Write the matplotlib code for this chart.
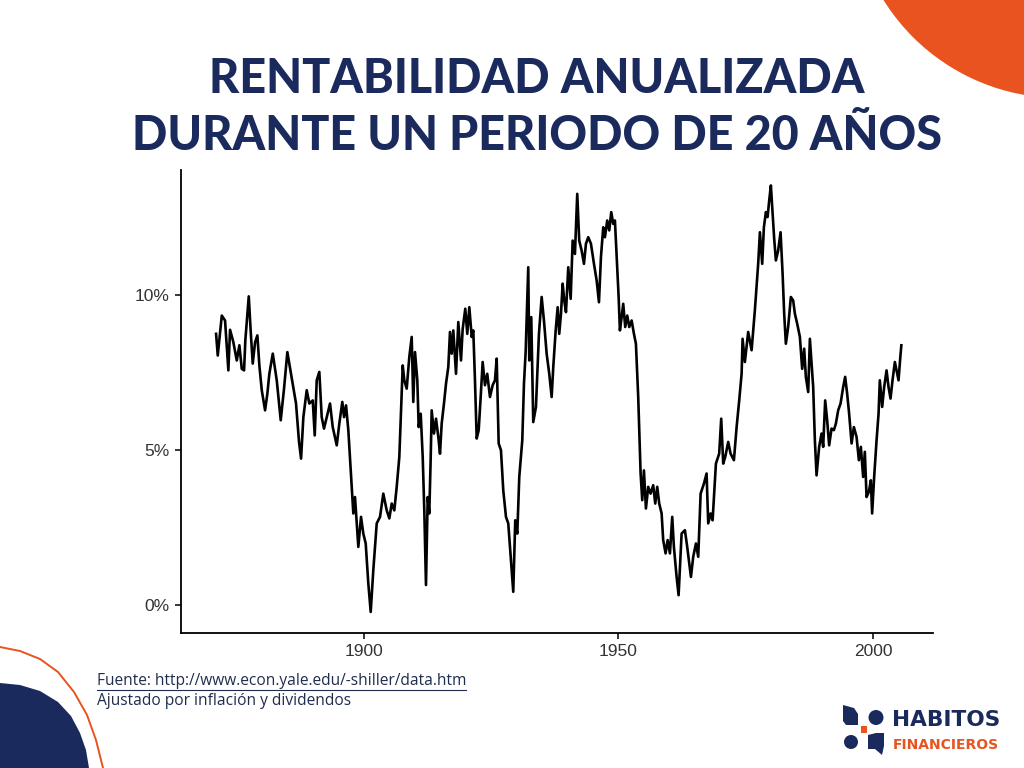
import numpy as np
import matplotlib
matplotlib.use("Agg")
import matplotlib.pyplot as plt
from matplotlib.patches import Circle, Polygon, Rectangle

years = [1871.08, 1871.41, 1872.20, 1872.84, 1873.49, 1873.82, 1874.47, 1875.14, 1875.65, 1876.12,
         1876.57, 1876.82, 1877.49, 1877.88, 1878.27, 1878.73, 1879.18, 1879.57, 1880.04, 1880.69,
         1881.14, 1881.53, 1882.20, 1882.98, 1883.76, 1884.41, 1885.06, 1885.78, 1886.76, 1887.35,
         1887.75, 1888.20, 1888.86, 1889.37, 1890.04, 1890.43, 1890.82, 1891.33, 1891.80, 1892.25,
         1892.78, 1893.43, 1893.96, 1894.75, 1895.25, 1895.84, 1896.18, 1896.57, 1897.02, 1897.49,
         1898.00, 1898.33, 1898.98, 1899.51, 1899.96, 1900.43, 1900.94, 1901.41, 1901.92, 1902.59,
         1903.24, 1903.88, 1904.55, 1905.06, 1905.53, 1906.04, 1906.51, 1907.02, 1907.29, 1907.69,
         1908.00, 1908.47, 1908.98, 1909.45, 1909.76, 1910.10, 1910.55, 1910.82, 1911.22, 1911.61,
         1911.92, 1912.25, 1912.59, 1912.90, 1913.18, 1913.37, 1913.82, 1914.22, 1914.67, 1915.00,
         1915.33, 1915.78, 1916.18, 1916.63, 1916.96, 1917.29, 1917.61, 1918.14, 1918.59, 1919.12,
         1919.45, 1919.96, 1920.35, 1920.75, 1921.22, 1921.53, 1921.86, 1922.20, 1922.59, 1922.98,
         1923.37, 1923.82, 1924.27, 1924.80, 1925.33, 1925.78, 1926.12, 1926.51, 1926.96, 1927.41,
         1927.94, 1928.39, 1928.86, 1929.37, 1929.76, 1930.16, 1930.55, 1931.14, 1931.47, 1931.80,
         1932.31, 1932.51, 1932.90, 1933.29, 1933.82, 1934.41, 1934.94, 1935.39, 1935.92, 1936.43,
         1936.90, 1937.22, 1937.69, 1938.08, 1938.39, 1938.73, 1939.06, 1939.37, 1939.71, 1940.16,
         1940.63, 1941.02, 1941.47, 1941.92, 1942.31, 1942.78, 1943.24, 1943.63, 1944.08, 1944.61,
         1945.20, 1945.73, 1946.18, 1946.57, 1947.02, 1947.35, 1947.80, 1948.20, 1948.59, 1948.98,
         1949.31, 1949.65, 1950.04, 1950.29, 1950.63, 1950.94, 1951.33, 1951.73, 1952.12, 1952.59,
         1953.04, 1953.43, 1953.88, 1954.35, 1954.67, 1955.00, 1955.39, 1955.84, 1956.31, 1956.82,
         1957.22, 1957.61, 1958.00, 1958.47, 1958.78, 1959.25, 1959.65, 1960.10, 1960.55, 1960.88,
         1961.41, 1961.80, 1962.39, 1963.04, 1963.49, 1964.22, 1964.67, 1965.20, 1965.65, 1966.12,
         1966.76, 1967.29, 1967.61, 1968.08, 1968.47, 1969.12, 1969.76, 1970.16, 1970.55, 1970.94,
         1971.53, 1972.00, 1972.65, 1973.18, 1973.69, 1974.16, 1974.35, 1974.80, 1975.45, 1976.12,
         1976.76, 1977.41, 1977.75, 1978.20, 1978.53, 1978.92, 1979.25, 1979.57, 1979.90, 1980.24,
         1980.55, 1980.88, 1981.33, 1981.80, 1982.20, 1982.51, 1982.84, 1983.29, 1983.82, 1984.27,
         1984.61, 1985.06, 1985.59, 1986.04, 1986.43, 1986.76, 1987.22, 1987.55, 1987.88, 1988.20,
         1988.53, 1988.86, 1989.37, 1989.84, 1990.16, 1990.55, 1990.94, 1991.33, 1991.80, 1992.25,
         1992.65, 1993.10, 1993.57, 1994.08, 1994.47, 1994.86, 1995.25, 1995.73, 1996.18, 1996.71,
         1997.16, 1997.55, 1998.00, 1998.33, 1998.67, 1999.12, 1999.51, 1999.76, 2000.16, 2000.63,
         2001.02, 2001.27, 2001.73, 2002.12, 2002.59, 2002.98, 2003.37, 2003.76, 2004.22, 2004.55,
         2004.94, 2005.29, 2005.49]
returns = [8.76, 8.06, 9.35, 9.19, 7.58, 8.89, 8.49, 7.90, 8.39, 7.63,
           7.58, 8.55, 9.97, 8.82, 7.80, 8.49, 8.71, 7.74, 6.94, 6.29,
           6.83, 7.47, 8.12, 7.26, 5.97, 6.99, 8.17, 7.47, 6.51, 5.27,
           4.73, 6.07, 6.94, 6.51, 6.61, 5.48, 7.26, 7.53, 6.07, 5.70,
           6.07, 6.51, 5.75, 5.16, 5.86, 6.56, 6.07, 6.45, 5.65, 4.35,
           2.96, 3.49, 1.88, 2.85, 2.31, 1.99, 0.70, -0.22, 1.13, 2.64,
           2.85, 3.60, 3.06, 2.80, 3.28, 3.06, 3.82, 4.78, 5.97, 7.74,
           7.26, 6.99, 8.01, 8.66, 6.56, 8.17, 7.26, 5.75, 6.18, 4.78,
           3.06, 0.65, 3.49, 2.96, 4.78, 6.29, 5.54, 6.02, 5.43, 4.89,
           5.86, 6.51, 7.15, 7.69, 8.82, 8.12, 8.87, 7.47, 9.14, 7.90,
           8.92, 9.57, 8.76, 9.62, 8.66, 8.87, 7.26, 5.38, 5.65, 6.72,
           7.85, 7.10, 7.47, 6.72, 7.10, 7.26, 7.96, 5.22, 5.00, 3.71,
           2.85, 2.64, 1.56, 0.43, 2.74, 2.31, 4.14, 5.32, 7.15, 8.17,
           10.91, 7.90, 9.30, 5.91, 6.40, 8.76, 9.95, 9.19, 8.12, 7.47,
           6.72, 7.69, 8.87, 9.62, 8.76, 9.41, 10.38, 9.84, 9.46, 10.91,
           9.89, 11.77, 11.34, 13.28, 11.77, 11.45, 11.02, 11.67, 11.88, 11.67,
           11.02, 10.48, 9.78, 11.24, 12.20, 11.88, 12.42, 12.10, 12.69, 12.31,
           12.42, 11.24, 9.95, 8.87, 9.30, 9.73, 8.98, 9.35, 8.98, 9.19,
           8.76, 8.44, 6.72, 4.25, 3.39, 4.35, 3.12, 3.82, 3.60, 3.87,
           3.28, 3.82, 3.28, 2.96, 2.10, 1.67, 2.10, 1.67, 2.85, 1.88,
           0.91, 0.32, 2.31, 2.42, 1.88, 0.91, 1.56, 1.99, 1.56, 3.60,
           3.92, 4.25, 2.64, 2.96, 2.74, 4.57, 4.89, 6.02, 4.57, 4.78,
           5.27, 4.89, 4.68, 5.75, 6.61, 7.47, 8.60, 7.85, 8.82, 8.23,
           9.52, 11.02, 12.04, 11.02, 12.20, 12.69, 12.53, 13.06, 13.55, 12.63,
           11.83, 11.13, 11.45, 12.04, 10.70, 9.41, 8.44, 8.98, 9.95, 9.84,
           9.41, 9.09, 8.66, 7.63, 8.28, 7.37, 6.88, 8.60, 7.80, 7.04,
           5.32, 4.19, 5.11, 5.54, 5.11, 6.61, 5.97, 5.16, 5.70, 5.65,
           5.86, 6.29, 6.51, 7.04, 7.37, 6.83, 6.18, 5.22, 5.75, 5.43,
           4.68, 5.11, 4.14, 4.95, 3.49, 3.66, 4.03, 2.96, 4.14, 5.32,
           6.18, 7.26, 6.40, 7.04, 7.58, 7.04, 6.67, 7.26, 7.85, 7.58,
           7.26, 8.01, 8.39]

y_ticks = [0, 5, 10]
y_tick_labels = ["0%", "5%", "10%"]
x_ticks = [1900, 1950, 2000]

title_lines = ["RENTABILIDAD ANUALIZADA", "DURANTE UN PERIODO DE 20 AÑOS"]
source_text = "Fuente: http://www.econ.yale.edu/-shiller/data.htm"
note_text = "Ajustado por inflación y dividendos"

navy = "#1b2a5c"
orange = "#e8531f"

W, H = 1024, 768
fig = plt.figure(figsize=(W / 100, H / 100), dpi=100)

# background layer in pixel coordinates for decorations and texts
bg = fig.add_axes([0, 0, 1, 1])
bg.set_xlim(0, W)
bg.set_ylim(H, 0)
bg.axis("off")

bg.add_patch(Circle((1060, -110), 208, color=orange, lw=0))
blob = [(0, 683), (20, 685), (40, 691), (58, 702), (71, 716), (80, 733), (86, 750), (89, 768), (0, 768)]
bg.add_patch(Polygon(blob, closed=True, color=navy, lw=0))
ring = np.array([(0, 647), (20, 651), (40, 659), (58, 672), (74, 692), (87, 715), (96, 740), (103, 768)])
bg.plot(ring[:, 0], ring[:, 1], color=orange, lw=1.4)

bg.text(537, 79, title_lines[0], ha="center", va="center", fontsize=33.6,
        fontweight="black", family="Lato", color=navy)
bg.text(537, 136, title_lines[1], ha="center", va="center", fontsize=33.6,
        fontweight="black", family="Lato", color=navy)

src = bg.text(97, 681, source_text, ha="left", va="center", fontsize=11.2,
              family="Open Sans", color="#1f2d4d")
bg.text(97, 701, note_text, ha="left", va="center", fontsize=11.2,
        family="Open Sans", color="#1f2d4d")

# logo
bg.add_patch(Polygon([(843, 705), (854, 708), (858, 714), (858, 725), (846, 725), (843, 721)],
                     closed=True, color=navy, lw=0))
bg.add_patch(Circle((876, 717.5), 7.5, color=navy, lw=0))
bg.add_patch(Rectangle((861, 726), 6, 7, color=orange, lw=0))
bg.add_patch(Circle((851, 742), 7, color=navy, lw=0))
bg.add_patch(Polygon([(868, 735), (876, 733), (884, 733), (884, 746), (882, 755), (875, 749), (868, 749)],
                     closed=True, color=navy, lw=0))
bg.text(892, 720, "HABITOS", ha="left", va="center", fontsize=15.6, fontweight="bold",
        family="DejaVu Sans", color=navy)
bg.text(893, 745, "FINANCIEROS", ha="left", va="center", fontsize=10, fontweight="bold",
        family="DejaVu Sans", color=orange)

# chart
ax = fig.add_axes([181 / W, 1 - 633 / H, (933 - 181) / W, (633 - 170) / H])
ax.patch.set_alpha(0)
ax.plot(years, returns, color="black", lw=1.9)
ax.set_xlim(1864.2, 2011.7)
ax.set_ylim(-0.9, 14.05)
ax.set_yticks(y_ticks)
ax.set_yticklabels(y_tick_labels)
ax.set_xticks(x_ticks)
for s in ["top", "right"]:
    ax.spines[s].set_visible(False)
for s in ["left", "bottom"]:
    ax.spines[s].set_linewidth(1.3)
ax.tick_params(length=4, width=1.1, labelsize=12.5, colors="black", labelcolor="#333333", pad=4)
for lab in ax.get_xticklabels() + ax.get_yticklabels():
    lab.set_family("Liberation Sans")

# underline the source line
fig.canvas.draw()
bb = src.get_window_extent(renderer=fig.canvas.get_renderer())
x0, x1 = bb.x0, bb.x1
ypix = H - bb.y0 + 1
bg.plot([x0, x1], [ypix, ypix], color="#1f2d4d", lw=0.8)

fig.savefig("out.png", dpi=100)
